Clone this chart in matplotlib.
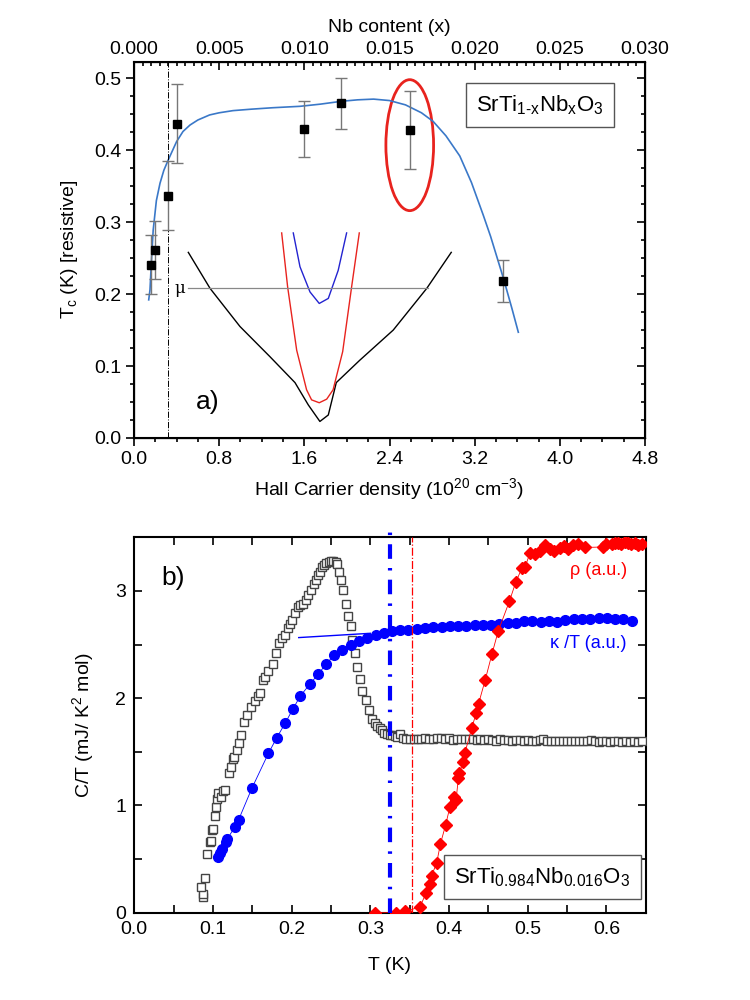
import matplotlib
matplotlib.use('Agg')
import matplotlib.pyplot as plt
from matplotlib.patches import Ellipse
from matplotlib.ticker import MultipleLocator

#%% Settings
plt.rcParams['font.family'] = ['Liberation Sans', 'DejaVu Sans']
plt.rcParams['mathtext.fontset'] = 'custom'
plt.rcParams['mathtext.rm'] = 'Liberation Sans'
plt.rcParams['mathtext.it'] = 'Liberation Sans'
plt.rcParams['mathtext.default'] = 'regular'

#%% Data - panel a
hall_n = [0.16, 0.20, 0.32, 0.40, 1.60, 1.945, 2.59, 3.47]
tc_res = [0.241, 0.261, 0.337, 0.437, 0.429, 0.465, 0.428, 0.218]
tc_err = [0.041, 0.040, 0.048, 0.055, 0.039, 0.035, 0.054, 0.029]

fit_n = [0.138, 0.15, 0.165, 0.18, 0.21, 0.244, 0.28, 0.32, 0.40, 0.46, 0.526, 0.60, 0.71,
         0.80, 0.93, 1.10, 1.30, 1.56, 1.75, 1.95, 2.10, 2.25, 2.40, 2.55, 2.70, 2.81, 2.93,
         3.06, 3.17, 3.28, 3.35, 3.47, 3.55, 3.61]
fit_tc = [0.192, 0.206, 0.25, 0.289, 0.33, 0.354, 0.372, 0.386, 0.412, 0.426, 0.435, 0.442,
          0.449, 0.452, 0.455, 0.457, 0.459, 0.461, 0.464, 0.468, 0.470, 0.471, 0.469, 0.463,
          0.452, 0.440, 0.420, 0.392, 0.355, 0.310, 0.280, 0.222, 0.180, 0.147]

# schematic bands (inset)
band_k_n = [0.51, 0.714, 0.995, 1.277, 1.512, 1.637, 1.746, 1.825, 1.90, 2.12, 2.435, 2.75, 2.98]
band_k_y = [0.258, 0.208, 0.155, 0.113, 0.077, 0.046, 0.023, 0.032, 0.077, 0.108, 0.150, 0.208, 0.258]
band_r_n = [1.387, 1.443, 1.528, 1.621, 1.668, 1.74, 1.81, 1.87, 1.96, 2.044, 2.116]
band_r_y = [0.285, 0.21, 0.122, 0.067, 0.053, 0.049, 0.054, 0.067, 0.12, 0.21, 0.285]
band_b_n = [1.496, 1.559, 1.653, 1.74, 1.825, 1.918, 1.997]
band_b_y = [0.285, 0.238, 0.203, 0.187, 0.194, 0.233, 0.285]
mu_n = [0.51, 2.76]
mu_y = [0.208, 0.208]

#%% Data - panel b
sq_T = [0.088, 0.0875, 0.0845, 0.0905, 0.0925, 0.0965, 0.098, 0.0985, 0.100, 0.102, 0.104,
        0.105, 0.107, 0.110, 0.1125, 0.1155, 0.120, 0.123, 0.126, 0.127, 0.130, 0.133, 0.136,
        0.140, 0.143, 0.1485, 0.153, 0.157, 0.160, 0.163, 0.166, 0.170, 0.176, 0.180, 0.184,
        0.188, 0.191, 0.195, 0.198, 0.201, 0.2045, 0.2075, 0.210, 0.214, 0.218, 0.221, 0.2245,
        0.228, 0.231, 0.234, 0.236, 0.239, 0.241, 0.244, 0.2475, 0.250, 0.253, 0.256, 0.258,
        0.260, 0.2625, 0.2655, 0.269, 0.272, 0.275, 0.277, 0.2805, 0.2835, 0.2865, 0.290,
        0.294, 0.298, 0.3025, 0.306, 0.309, 0.312, 0.315, 0.318, 0.3215, 0.325, 0.328, 0.331,
        0.334, 0.338, 0.341, 0.345, 0.350, 0.355, 0.360, 0.365, 0.370, 0.375, 0.380, 0.385,
        0.390, 0.395, 0.400, 0.405, 0.410, 0.415, 0.420, 0.425, 0.430, 0.435, 0.440, 0.445,
        0.450, 0.455, 0.460, 0.465, 0.470, 0.475, 0.480, 0.485, 0.490, 0.495, 0.500, 0.505,
        0.510, 0.515, 0.520, 0.525, 0.530, 0.535, 0.540, 0.545, 0.550, 0.555, 0.560, 0.565,
        0.570, 0.575, 0.580, 0.585, 0.590, 0.595, 0.600, 0.605, 0.610, 0.615, 0.620, 0.625,
        0.630, 0.635, 0.640, 0.645]
sq_C = [0.15, 0.17, 0.24, 0.32, 0.55, 0.66, 0.67, 0.77, 0.78, 0.90, 0.99,
        1.06, 1.12, 1.08, 1.13, 1.14, 1.30, 1.36, 1.43, 1.45, 1.52, 1.58, 1.66,
        1.78, 1.84, 1.92, 1.97, 2.02, 2.05, 2.17, 2.20, 2.25, 2.32, 2.42, 2.51,
        2.56, 2.59, 2.65, 2.69, 2.73, 2.79, 2.85, 2.87, 2.88, 2.92, 2.96, 3.01,
        3.06, 3.10, 3.15, 3.18, 3.22, 3.24, 3.26, 3.27, 3.28, 3.28, 3.27, 3.25,
        3.18, 3.10, 3.01, 2.88, 2.77, 2.67, 2.54, 2.42, 2.29, 2.18, 2.07,
        1.98, 1.89, 1.81, 1.77, 1.74, 1.72, 1.70, 1.68, 1.67, 1.66, 1.66, 1.65,
        1.64, 1.67, 1.63, 1.62, 1.62, 1.615, 1.62, 1.62, 1.625, 1.62, 1.62, 1.625,
        1.63, 1.62, 1.625, 1.61, 1.62, 1.615, 1.62, 1.615, 1.62, 1.61, 1.615, 1.61,
        1.615, 1.61, 1.605, 1.615, 1.61, 1.61, 1.605, 1.61, 1.61, 1.605, 1.61, 1.605,
        1.60, 1.61, 1.62, 1.60, 1.60, 1.605, 1.60, 1.60, 1.605, 1.60, 1.60, 1.605,
        1.60, 1.60, 1.61, 1.60, 1.595, 1.60, 1.60, 1.595, 1.60, 1.60, 1.595, 1.60,
        1.595, 1.60, 1.595, 1.60]

kap_T = [0.1063, 0.1084, 0.1118, 0.116, 0.118, 0.1275, 0.1325, 0.1494, 0.1705, 0.181, 0.192,
         0.2013, 0.211, 0.223, 0.234, 0.244, 0.254, 0.2645, 0.275, 0.2855, 0.296, 0.307, 0.317,
         0.328, 0.338, 0.3485, 0.359, 0.3695, 0.380, 0.3905, 0.401, 0.4115, 0.422, 0.4325,
         0.443, 0.4535, 0.464, 0.4745, 0.485, 0.4955, 0.506, 0.5165, 0.527, 0.5375, 0.548,
         0.5585, 0.569, 0.5795, 0.590, 0.6005, 0.611, 0.6215, 0.632]
kap_C = [0.522, 0.553, 0.591, 0.662, 0.684, 0.796, 0.864, 1.159, 1.486, 1.63, 1.77,
         1.895, 2.02, 2.13, 2.225, 2.32, 2.40, 2.45, 2.495, 2.53, 2.563, 2.588, 2.61,
         2.625, 2.635, 2.64, 2.645, 2.655, 2.66, 2.665, 2.67, 2.67, 2.675, 2.68,
         2.68, 2.68, 2.69, 2.70, 2.705, 2.715, 2.715, 2.71, 2.715, 2.71, 2.725,
         2.735, 2.735, 2.74, 2.75, 2.745, 2.74, 2.735, 2.72]
kap_fit_T = [0.209, 0.30]
kap_fit_C = [2.565, 2.605]

rho_T = [0.306, 0.332, 0.3444, 0.3627, 0.371, 0.3764, 0.3778, 0.3844, 0.389, 0.3956, 0.401,
         0.4067, 0.4089, 0.412, 0.4133, 0.4178, 0.420, 0.429, 0.4345, 0.4376, 0.446, 0.4545,
         0.4625, 0.4768, 0.485, 0.4925, 0.4967, 0.503, 0.5093, 0.5156, 0.522, 0.5283, 0.5338,
         0.541, 0.5465, 0.5515, 0.558, 0.5642, 0.5726, 0.596, 0.600, 0.6065, 0.6105, 0.615,
         0.619, 0.6234, 0.627, 0.6318, 0.636, 0.640, 0.645]
rho_C = [0.0, 0.0, 0.016, 0.05, 0.184, 0.271, 0.343, 0.467, 0.639, 0.816, 0.981,
         1.081, 1.05, 1.26, 1.30, 1.408, 1.486, 1.725, 1.86, 1.95, 2.17, 2.41,
         2.625, 2.905, 3.085, 3.21, 3.225, 3.355, 3.345, 3.375, 3.427, 3.39, 3.37,
         3.40, 3.415, 3.39, 3.427, 3.44, 3.405, 3.41, 3.44, 3.44, 3.45, 3.446,
         3.44, 3.455, 3.45, 3.44, 3.445, 3.427, 3.44]

tc_lines = [0.3245, 0.3524]

#%% Figure
fig = plt.figure(figsize=(7.5, 10), dpi=100)
fs = 14

#%% Panel a
ax = fig.add_axes([0.1787, 0.562, 0.6813, 0.3763])
ax.plot(fit_n, fit_tc, color='#3a78c8', lw=1.2, zorder=2)
ax.errorbar(hall_n, tc_res, yerr=tc_err, fmt='s', color='k', ms=6, ecolor='#777777',
            elinewidth=1.0, capsize=4, capthick=1.0, zorder=3)
ax.plot(band_k_n, band_k_y, color='k', lw=1.0)
ax.plot(band_r_n, band_r_y, color='#e8231e', lw=1.0)
ax.plot(band_b_n, band_b_y, color='#2323d0', lw=1.0)
ax.plot(mu_n, mu_y, color='#888888', lw=0.9)
ax.text(0.48, 0.208, 'μ', ha='right', va='center', fontsize=12, family='DejaVu Serif')
ax.axvline(0.32, color='k', lw=0.7, ls='-.')
ax.add_patch(Ellipse((2.59, 0.407), 0.448, 0.182, fill=False, edgecolor='#e8231e', lw=2))
ax.text(0.58, 0.05, 'a)', fontsize=19, ha='left', va='center')
ax.text(0.795, 0.885, 'SrTi$_{1\u2010x}$Nb$_x$O$_3$', transform=ax.transAxes, fontsize=16,
        ha='center', va='center',
        bbox=dict(boxstyle='square,pad=0.45', fc='white', ec='#555555', lw=1))

ax.set_xlim(0, 4.8)
ax.set_ylim(0, 0.523)
ax.xaxis.set_major_locator(MultipleLocator(0.8))
ax.xaxis.set_minor_locator(MultipleLocator(0.2))
ax.yaxis.set_major_locator(MultipleLocator(0.1))
ax.yaxis.set_minor_locator(MultipleLocator(0.025))
ax.xaxis.set_major_formatter(lambda v, p: '{:.1f}'.format(v))
ax.yaxis.set_major_formatter(lambda v, p: '{:.1f}'.format(v))
ax.tick_params(which='both', direction='out', labelsize=fs, width=1.2, top=False, right=False, pad=3)
ax.tick_params(which='major', length=6)
ax.tick_params(which='minor', length=3)
ax.set_xlabel('Hall Carrier density (10$^{20}$ cm$^{-3}$)', fontsize=fs, labelpad=6)
ax.set_ylabel('T$_c$ (K) [resistive]', fontsize=fs, labelpad=10)
for sp in ax.spines.values():
    sp.set_linewidth(1.5)

# right spine ticks (inward)
ax_r = ax.twinx()
ax_r.set_ylim(ax.get_ylim())
ax_r.yaxis.set_major_locator(MultipleLocator(0.1))
ax_r.yaxis.set_minor_locator(MultipleLocator(0.025))
ax_r.tick_params(which='both', direction='in', labelright=False, width=1.2)
ax_r.tick_params(which='major', length=6)
ax_r.tick_params(which='minor', length=3)

# top axis: Nb content
ax_t = ax.twiny()
ax_t.set_xlim(0, 0.03)
ax_t.xaxis.set_major_locator(MultipleLocator(0.005))
ax_t.xaxis.set_minor_locator(MultipleLocator(0.0005))
ax_t.xaxis.set_major_formatter(lambda v, p: '{:.3f}'.format(v))
ax_t.tick_params(which='both', direction='in', labelsize=fs, width=1.2, pad=3)
ax_t.tick_params(which='major', length=6)
ax_t.tick_params(which='minor', length=3)
ax_t.set_xlabel('Nb content (x)', fontsize=fs, labelpad=6)

#%% Panel b
bx = fig.add_axes([0.179, 0.0873, 0.682, 0.3754])
bx.plot(sq_T, sq_C, ls='none', marker='s', ms=5.5, mfc='white', mec='#444444', mew=1.0, zorder=3)
bx.plot(kap_T, kap_C, color='#0000ff', lw=0.6, marker='o', ms=7, mec='#0000ff', mfc='#0000ff', zorder=4)
bx.plot(kap_fit_T, kap_fit_C, color='#0000ff', lw=1.0, zorder=4)
bx.plot(rho_T, rho_C, color='#ff0000', lw=0.6, marker='D', ms=6.5, mec='#ff0000', mfc='#ff0000', zorder=4)
bx.axvline(tc_lines[0], ymax=1.015, color='#0000ff', lw=3, dashes=(3.5, 2.2, 0.6, 2.2),
           zorder=5, clip_on=False)
bx.axvline(tc_lines[1], color='#ff0000', lw=0.9, ls='-.', zorder=5)
bx.text(0.626, 3.19, 'ρ (a.u.)', color='#ff0000', fontsize=13, ha='right', va='center')
bx.text(0.626, 2.51, 'κ /T (a.u.)', color='#0000ff', fontsize=13, ha='right', va='center')
bx.text(0.034, 3.12, 'b)', fontsize=19, ha='left', va='center')
bx.text(0.798, 0.095, 'SrTi$_{0.984}$Nb$_{0.016}$O$_3$', transform=bx.transAxes, fontsize=16,
        ha='center', va='center',
        bbox=dict(boxstyle='square,pad=0.45', fc='white', ec='#555555', lw=1))

bx.set_xlim(0, 0.65)
bx.set_ylim(0, 3.5)
bx.xaxis.set_major_locator(MultipleLocator(0.1))
bx.xaxis.set_minor_locator(MultipleLocator(0.05))
bx.yaxis.set_major_locator(MultipleLocator(1))
bx.yaxis.set_minor_locator(MultipleLocator(0.5))
bx.xaxis.set_major_formatter(lambda v, p: '{:.1f}'.format(v))
bx.tick_params(which='both', direction='in', labelsize=fs, width=1.2, top=True, right=True, pad=6)
bx.tick_params(which='major', length=6)
bx.tick_params(which='minor', length=6)
bx.set_xlabel('T (K)', fontsize=fs, labelpad=14)
bx.set_ylabel('C/T (mJ/ K$^2$ mol)', fontsize=fs, labelpad=14)
for sp in bx.spines.values():
    sp.set_linewidth(1.5)

fig.savefig('out.png', dpi=100)
